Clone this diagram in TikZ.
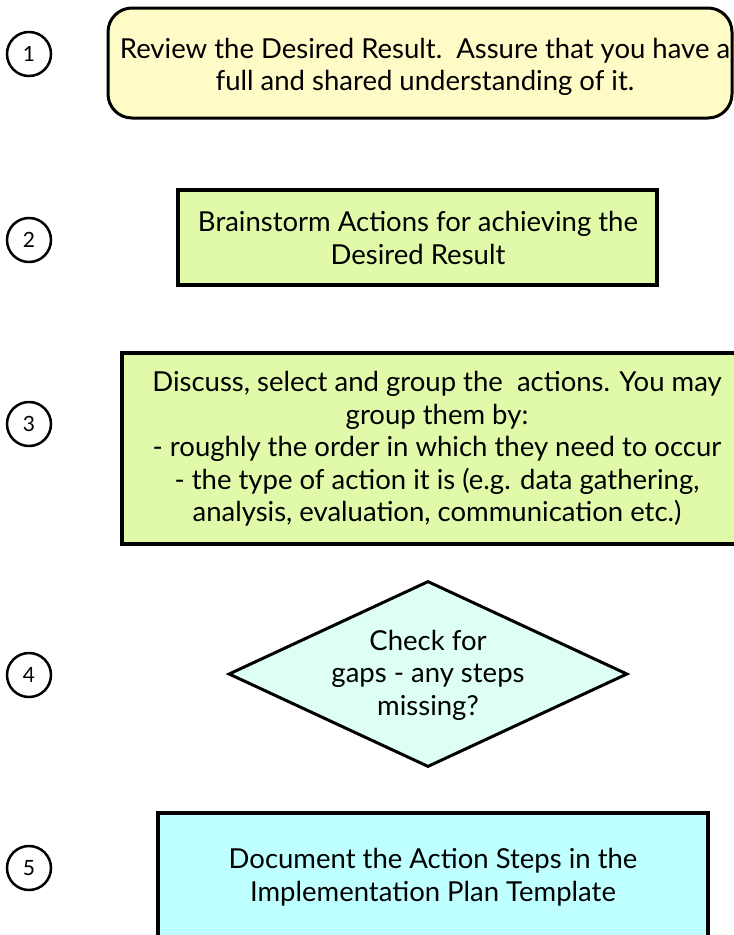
\documentclass[tikz,border=0pt]{standalone}
\usepackage{fontspec}
\setmainfont{Lato}
\usetikzlibrary{shapes.geometric}
\definecolor{yel}{RGB}{255,251,199}
\definecolor{lgreen}{RGB}{224,250,170}
\definecolor{mint}{RGB}{222,255,246}
\definecolor{cyanbox}{RGB}{190,255,255}
\tikzset{
  txt/.style={font=\fontsize{27.5}{32.5}\selectfont, align=center, text=black},
  numc/.style={draw=black, line width=2.5pt, circle, minimum size=44pt, inner sep=0pt, font=\fontsize{21}{24}\selectfont},
  boxbase/.style={draw=black, line width=3.5pt, inner sep=0pt},
}
\begin{document}
\begin{tikzpicture}[x=1pt,y=1pt]
\useasboundingbox (0,0) rectangle (734,-935);
\clip (0,0) rectangle (734,-935);
\fill[white] (0,0) rectangle (734,-935);

% step 1
\node[boxbase, line width=3pt, fill=yel, rounded corners=24pt, minimum width=624pt, minimum height=110pt] (b1) at (420,-63) {};
\node[txt] (t1) at (425,-67) {Review the Desired Result.\ \ Assure that you have a\\full and shared understanding of it.};
\node[numc] (c1) at (29,-54) {1};

% step 2
\node[boxbase, fill=lgreen, minimum width=479pt, minimum height=95pt] (b2) at (417.5,-237.5) {};
\node[txt] (t2) at (418,-238) {Brainstorm Actions for achieving the\\Desired Result};
\node[numc] (c2) at (29,-240) {2};

% step 3
\node[boxbase, fill=lgreen, minimum width=630pt, minimum height=191pt] (b3) at (437,-448.5) {};
\node[txt] (t3) at (437,-449) {Discuss, select and group the\ \ actions. You may\\group them by:\\- roughly the order in which they need to occur\\- the type of action it is (e.g. data gathering,\\analysis, evaluation, communication etc.)};
\node[numc] (c3) at (29,-424) {3};

% step 4
\node[draw=black, line width=3pt, fill=mint, diamond, aspect=2.15, minimum width=399pt, minimum height=186pt, inner sep=0pt] (d4) at (428,-674) {};
\node[txt] (t4) at (428,-675) {Check for\\gaps - any steps\\missing?};
\node[numc] (c4) at (29,-675) {4};

% step 5
\node[boxbase, fill=cyanbox, minimum width=550pt, minimum height=128pt] (b5) at (433,-877) {};
\node[txt] (t5) at (433,-877) {Document the Action Steps in the\\Implementation Plan Template};
\node[numc] (c5) at (29,-868) {5};
\end{tikzpicture}
\end{document}
